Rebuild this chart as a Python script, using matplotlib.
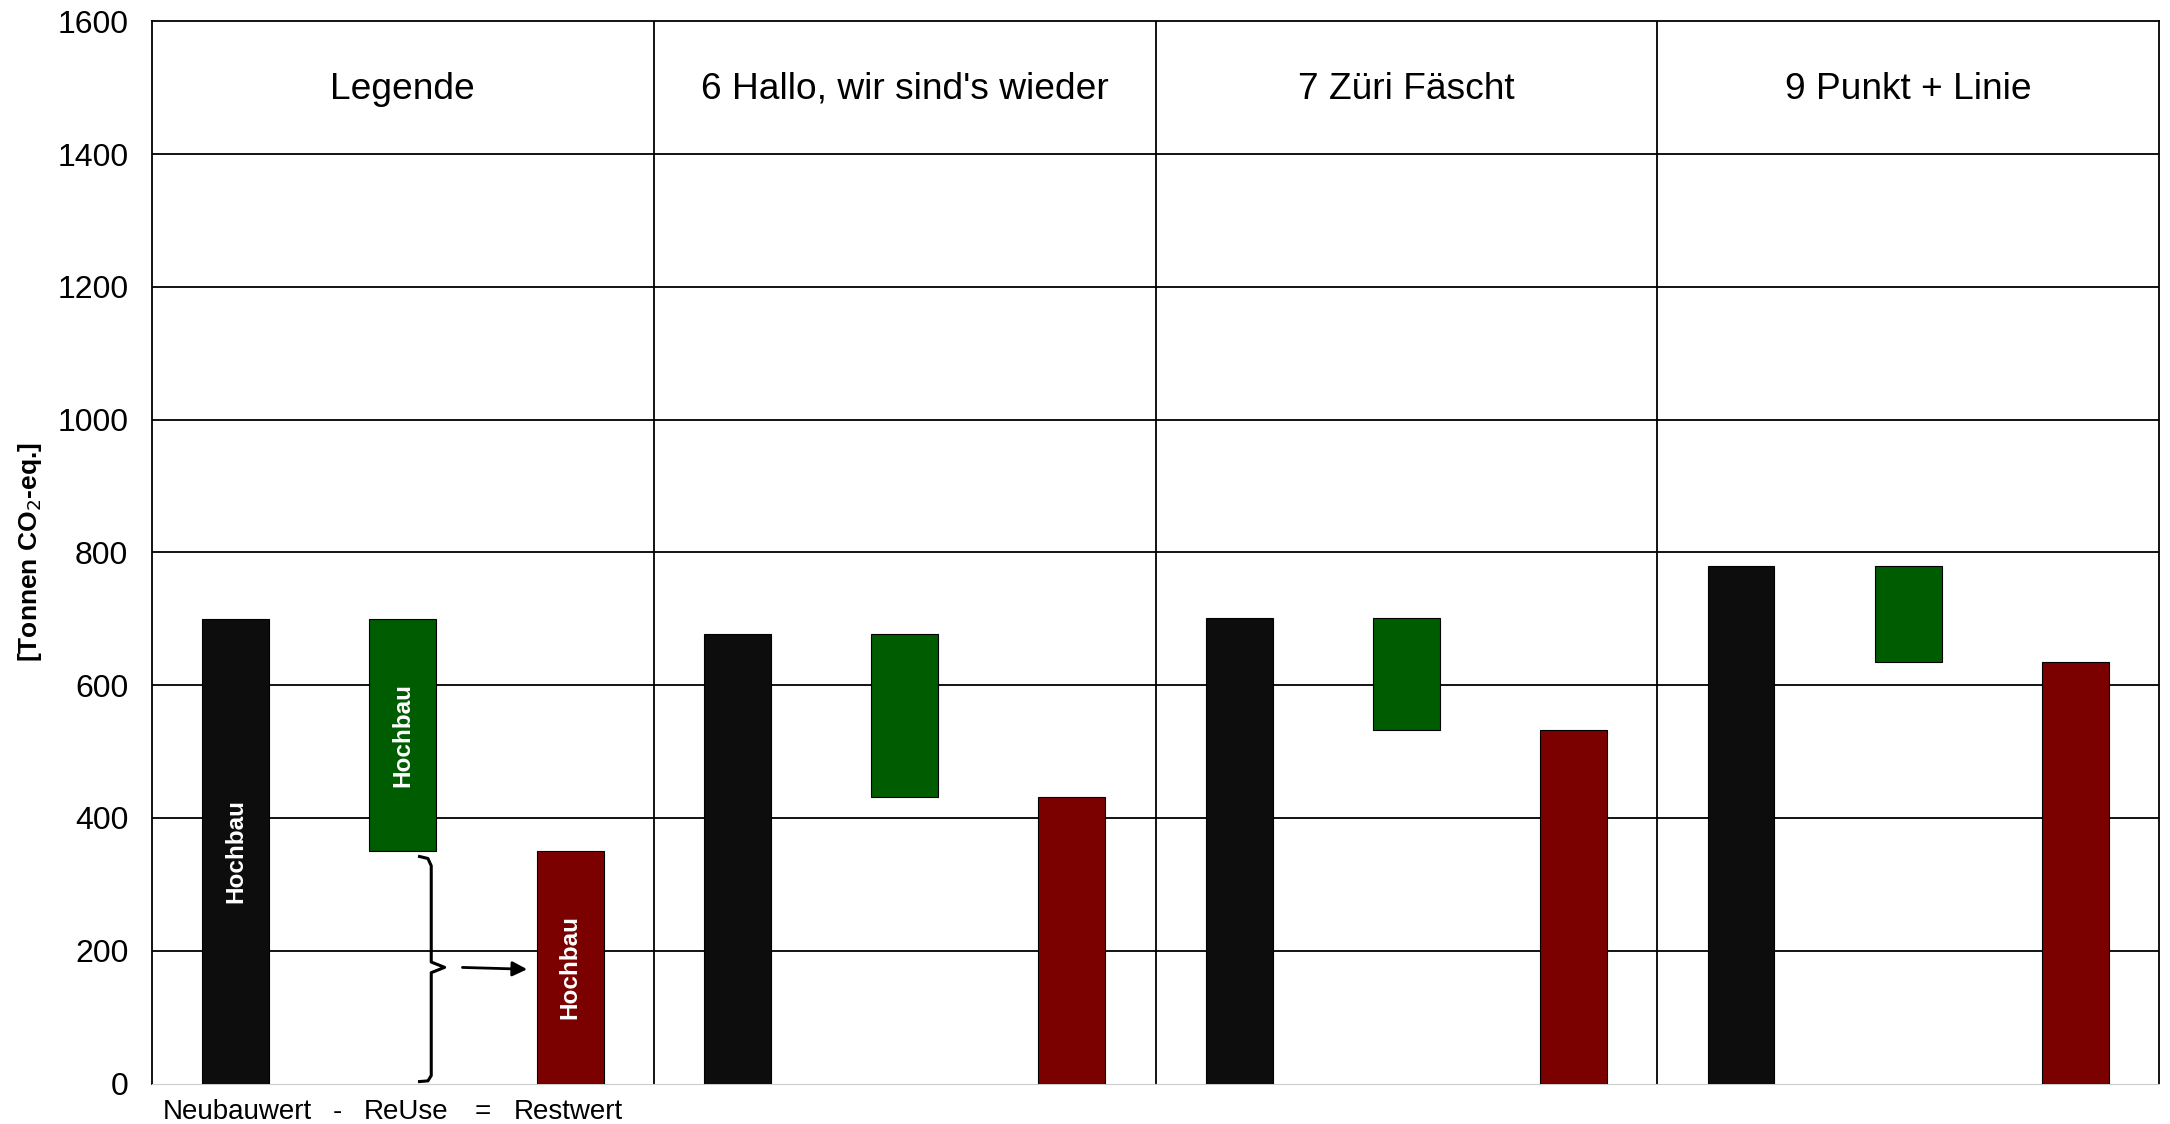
import matplotlib

matplotlib.use("Agg")

import matplotlib.pyplot as plt
from matplotlib.transforms import blended_transform_factory

plt.rcParams["font.family"] = ["Liberation Sans", "DejaVu Sans"]

# panels: legend + three projects
panels = ["Legende", "6 Hallo, wir sind's wieder", "7 Züri Fäscht", "9 Punkt + Linie"]
neubauwert = [700, 677, 702, 779]
restwert = [350, 432, 533, 635]
bar_labels = ["Neubauwert", "ReUse", "Restwert"]
inner_label = "Hochbau"
y_ticks = [0, 200, 400, 600, 800, 1000, 1200, 1400, 1600]

C_NEU = "#0d0d0d"
C_REUSE = "#005c00"
C_REST = "#7b0000"

fig = plt.figure(figsize=(21.7, 11.24), dpi=100)
ax = fig.add_axes([0.070, 0.036, 0.925, 0.945])

w = 0.4
for i, (nb, rw) in enumerate(zip(neubauwert, restwert)):
    x0 = 3 * i
    ax.bar(x0 + 0.5, nb, width=w, color=C_NEU, edgecolor="black", lw=0.8, zorder=3)
    ax.bar(x0 + 1.5, nb - rw, bottom=rw, width=w, color=C_REUSE,
           edgecolor="black", lw=0.8, zorder=3)
    ax.bar(x0 + 2.5, rw, width=w, color=C_REST, edgecolor="black", lw=0.8, zorder=3)
    ax.text(x0 + 1.5, 1498, panels[i], ha="center", va="center", fontsize=26.7)

# white labels inside the legend bars
nb0, rw0 = neubauwert[0], restwert[0]
lab_kw = dict(rotation=90, ha="center", va="center", color="white",
              fontsize=17.5, fontweight="bold", zorder=4)
ax.text(0.5, nb0 / 2, inner_label, **lab_kw)
ax.text(1.5, (nb0 + rw0) / 2, inner_label, **lab_kw)
ax.text(2.5, rw0 / 2, inner_label, **lab_kw)

# bracket from ReUse bottom down to zero, with arrow to Restwert
bx, mid = 1.67, rw0 / 2
ax.plot([1.60, 1.65, bx, bx, 1.75, bx, bx, 1.65, 1.60],
        [rw0 - 8, rw0 - 11, rw0 - 22, mid + 8, mid, mid - 8, 12, 4, 3],
        color="black", lw=2.2, zorder=4, solid_joinstyle="round")
ax.annotate("", xy=(2.26, mid - 3), xytext=(1.84, mid),
            arrowprops=dict(arrowstyle="-|>", color="black", lw=2,
                            mutation_scale=22), zorder=4)

# captions under the legend bars
trans = blended_transform_factory(ax.transData, ax.transAxes)
for xi, s in zip([0.51, 1.11, 1.52, 1.98, 2.49],
                 [bar_labels[0], "-", bar_labels[1], "=", bar_labels[2]]):
    ax.text(xi, -0.027, s, transform=trans, ha="center", va="center", fontsize=20)

ax.set_xlim(0, 12)
ax.set_ylim(0, 1600)
ax.set_yticks(y_ticks)
ax.set_xticks([])
ax.tick_params(axis="y", length=0, labelsize=23, pad=17)
for yv in y_ticks[1:-1]:
    ax.axhline(yv, color="black", lw=1.3, zorder=1)
for xv in [3, 6, 9]:
    ax.axvline(xv, color="black", lw=1.3, zorder=1)
for sp in ["top", "left", "right"]:
    ax.spines[sp].set_linewidth(1.3)
ax.spines["bottom"].set_color("#cccccc")

ax.set_ylabel("[Tonnen CO$_2$-eq.]", fontsize=19, fontweight="bold")
ax.yaxis.set_label_coords(-0.054, 0.5)

fig.savefig("out.png", dpi=100)
